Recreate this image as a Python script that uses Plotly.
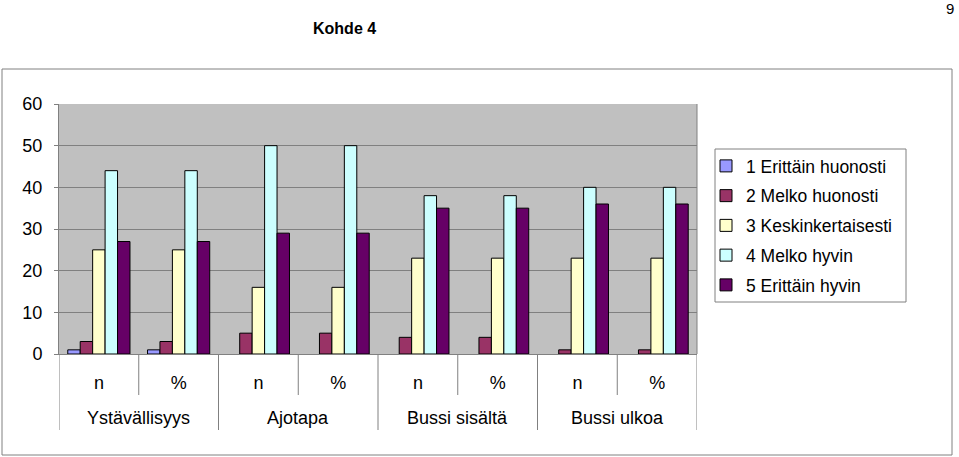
import plotly.graph_objects as go

# ---- data ----
sub_labels = ["n", "%", "n", "%", "n", "%", "n", "%"]
group_labels = ["Ystävällisyys", "Ajotapa", "Bussi sisältä", "Bussi ulkoa"]
series_names = ["1 Erittäin huonosti", "2 Melko huonosti", "3 Keskinkertaisesti",
                "4 Melko hyvin", "5 Erittäin hyvin"]
s1 = [1, 1, 0, 0, 0, 0, 0, 0]
s2 = [3, 3, 5, 5, 4, 4, 1, 1]
s3 = [25, 25, 16, 16, 23, 23, 23, 23]
s4 = [44, 44, 50, 50, 38, 38, 40, 40]
s5 = [27, 27, 29, 29, 35, 35, 36, 36]
series_values = [s1, s2, s3, s4, s5]
colors = ["#9999FF", "#993366", "#FFFFCC", "#CCFFFF", "#660066"]
y_ticks = [0, 10, 20, 30, 40, 50, 60]

FONT = "Liberation Sans, Arial, sans-serif"
W, H = 959, 457
L, R, T, B = 59, 262, 104, 103
pw, ph = W - L - R, H - T - B

def px(xp):
    return (xp - L) / pw

def py(yp):
    return (H - B - yp) / ph

x_pos = list(range(len(sub_labels)))

fig = go.Figure()
for i, (name, vals, col) in enumerate(zip(series_names, series_values, colors)):
    fig.add_trace(go.Bar(
        x=x_pos, y=vals, name=name, legendgroup=f"g{i}",
        marker=dict(color=col,
                    line=dict(color="black", width=[1 if v > 0 else 0 for v in vals])),
    ))

shapes = []
# outer chart frame
shapes.append(dict(type="rect", xref="paper", yref="paper",
                   x0=px(2), x1=px(952), y0=py(455), y1=py(69),
                   line=dict(color="#808080", width=1), layer="below"))
# legend box
shapes.append(dict(type="rect", xref="paper", yref="paper",
                   x0=px(715), x1=px(906), y0=py(302), y1=py(149),
                   line=dict(color="#808080", width=1), fillcolor="white", layer="below"))
# category dividers
n_cat = len(sub_labels)
for k in range(n_cat + 1):
    long = (k % 2 == 0)
    shapes.append(dict(type="line", xref="x", yref="paper",
                       x0=k - 0.5, x1=k - 0.5, y0=0, y1=py(430) if long else py(395),
                       line=dict(color="#808080", width=1)))
# plot area right border
shapes.append(dict(type="line", xref="paper", yref="paper", x0=1, x1=1, y0=0, y1=1,
                   line=dict(color="#808080", width=1)))

annotations = []
for g, lab in enumerate(group_labels):
    annotations.append(dict(x=2 * g + 0.5, xref="x", y=py(418), yref="paper",
                            text=lab, showarrow=False, xanchor="center", yanchor="middle",
                            font=dict(family=FONT, size=18, color="black")))
annotations.append(dict(x=px(344), y=py(29), xref="paper", yref="paper", text="<b>Kohde 4</b>",
                        showarrow=False, xanchor="center", yanchor="middle",
                        font=dict(family=FONT, size=16, color="black")))
annotations.append(dict(x=px(956), y=py(8), xref="paper", yref="paper", text="9",
                        showarrow=False, xanchor="right", yanchor="middle",
                        font=dict(family=FONT, size=15, color="black")))

fig.update_layout(
    width=W, height=H,
    margin=dict(l=L, r=R, t=T, b=B, autoexpand=False),
    paper_bgcolor="white", plot_bgcolor="#C0C0C0",
    barmode="group", bargap=0.22, bargroupgap=0,
    font=dict(family=FONT, color="black"),
    showlegend=True,
    legend=dict(x=px(706), y=py(148), xanchor="left", yanchor="top",
                bgcolor="rgba(0,0,0,0)", borderwidth=0,
                font=dict(family=FONT, size=17.5, color="black"),
                tracegroupgap=4, itemwidth=30),
    xaxis=dict(range=[-0.5, n_cat - 0.5], tickmode="array", tickvals=x_pos, ticktext=sub_labels,
               showgrid=False, zeroline=False, showline=True, linecolor="#808080", linewidth=1,
               ticks="", ticklabelstandoff=12, tickfont=dict(family=FONT, size=18, color="black"),
               fixedrange=True),
    yaxis=dict(range=[0, 60], tickmode="array", tickvals=y_ticks,
               showgrid=True, gridcolor="#808080", gridwidth=1, zeroline=False,
               showline=True, linecolor="#808080", linewidth=1,
               ticks="outside", ticklen=4, tickcolor="#808080", ticklabelstandoff=8,
               tickfont=dict(family=FONT, size=18, color="black"), fixedrange=True),
    shapes=shapes, annotations=annotations,
)

fig.write_html("out.html")
